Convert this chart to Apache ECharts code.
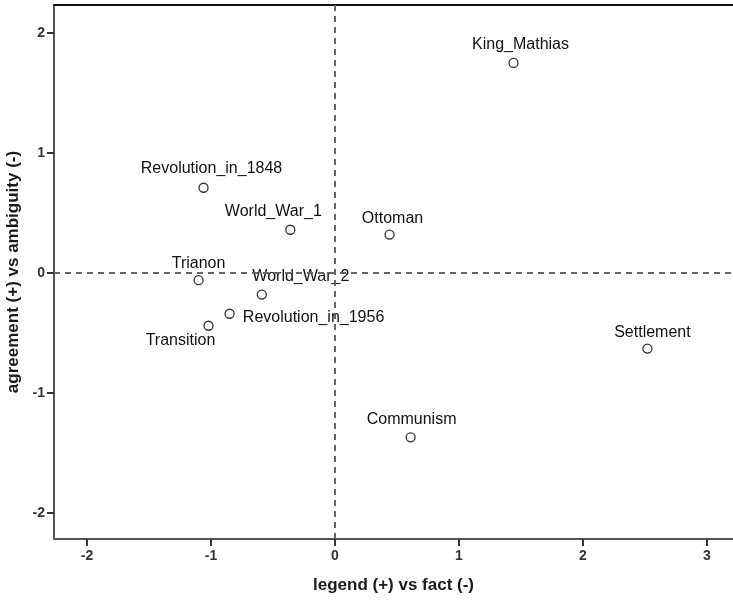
<!DOCTYPE html>
<html>
<head>
<meta charset="utf-8">
<script src="https://cdn.jsdelivr.net/npm/echarts@6/dist/echarts.min.js"></script>
<style>
  html, body { margin: 0; padding: 0; background: #fff; }
  #chart { width: 733px; height: 600px; }
</style>
</head>
<body>
<div id="chart"></div>
<script>
// Historical events placed on two perceptual dimensions
const eventNames = ['King_Mathias', 'Revolution_in_1848', 'World_War_1', 'Ottoman', 'Trianon',
  'World_War_2', 'Revolution_in_1956', 'Transition', 'Settlement', 'Communism'];
const legendVsFact = [1.44, -1.06, -0.36, 0.44, -1.10, -0.59, -0.85, -1.02, 2.52, 0.61];
const agreementVsAmbiguity = [1.75, 0.71, 0.36, 0.32, -0.06, -0.18, -0.34, -0.44, -0.63, -1.37];
const xTicks = [-2, -1, 0, 1, 2, 3];
const yTicks = [-2, -1, 0, 1, 2];

// label placement around each marker (pixels from the marker centre)
const labelOffsets = {
  King_Mathias: [7, -18],
  Revolution_in_1848: [8, -19],
  World_War_1: [-17, -18],
  Ottoman: [3, -16],
  Trianon: [0, -17],
  World_War_2: [39, -18],
  Revolution_in_1956: [84, 4],
  Transition: [-28, 15],
  Settlement: [5, -16],
  Communism: [1, -18]
};

const points = eventNames.map((name, i) => ({
  name: name,
  value: [legendVsFact[i], agreementVsAmbiguity[i]],
  label: { offset: labelOffsets[name] }
}));

const textFont = 'Liberation Sans, Arial, sans-serif';

const chart = echarts.init(document.getElementById('chart'));
chart.setOption({
  animation: false,
  backgroundColor: '#ffffff',
  grid: { left: 54, top: 5, right: 0, bottom: 61, containLabel: false, outerBoundsMode: 'none' },
  xAxis: [{
    type: 'value',
    min: -2.266,
    max: 3.21,
    name: 'legend (+) vs fact (-)',
    nameLocation: 'middle',
    nameGap: 38,
    nameTextStyle: { fontFamily: textFont, fontWeight: 'bold', fontSize: 17, color: '#1a1a1a' },
    axisLine: { show: true, onZero: false, lineStyle: { color: '#555', width: 2 } },
    axisTick: { show: true, length: 7, customValues: xTicks, lineStyle: { color: '#333', width: 2 } },
    axisLabel: { customValues: xTicks, fontFamily: textFont, fontWeight: 'bold', fontSize: 14, color: '#333', margin: 10 },
    splitLine: { show: false }
  }, {
    type: 'value',
    position: 'top',
    min: -2.266,
    max: 3.21,
    axisLine: { show: true, onZero: false, lineStyle: { color: '#111', width: 2 } },
    axisTick: { show: false },
    axisLabel: { show: false },
    splitLine: { show: false }
  }],
  yAxis: {
    type: 'value',
    min: -2.217,
    max: 2.233,
    name: 'agreement (+) vs ambiguity (-)',
    nameLocation: 'middle',
    nameGap: 31,
    nameTextStyle: { fontFamily: textFont, fontWeight: 'bold', fontSize: 17, color: '#1a1a1a' },
    axisLine: { show: true, onZero: false, lineStyle: { color: '#555', width: 2 } },
    axisTick: { show: true, length: 7, customValues: yTicks, lineStyle: { color: '#333', width: 2 } },
    axisLabel: { customValues: yTicks, fontFamily: textFont, fontWeight: 'bold', fontSize: 14, color: '#333', margin: 9 },
    splitLine: { show: false }
  },
  series: [{
    type: 'scatter',
    xAxisIndex: 0,
    symbol: 'circle',
    symbolSize: 9,
    itemStyle: { color: '#ffffff', borderColor: '#333', borderWidth: 1.3, opacity: 1 },
    label: {
      show: true,
      position: 'inside',
      formatter: '{b}',
      fontFamily: textFont,
      fontSize: 16,
      color: '#111',
      textBorderWidth: 0
    },
    emphasis: { disabled: true },
    data: points,
    markLine: {
      silent: true,
      symbol: 'none',
      label: { show: false },
      lineStyle: { color: '#666', width: 2, type: [6, 5] },
      data: [{ xAxis: 0 }, { yAxis: 0 }]
    }
  }]
});
</script>
</body>
</html>
